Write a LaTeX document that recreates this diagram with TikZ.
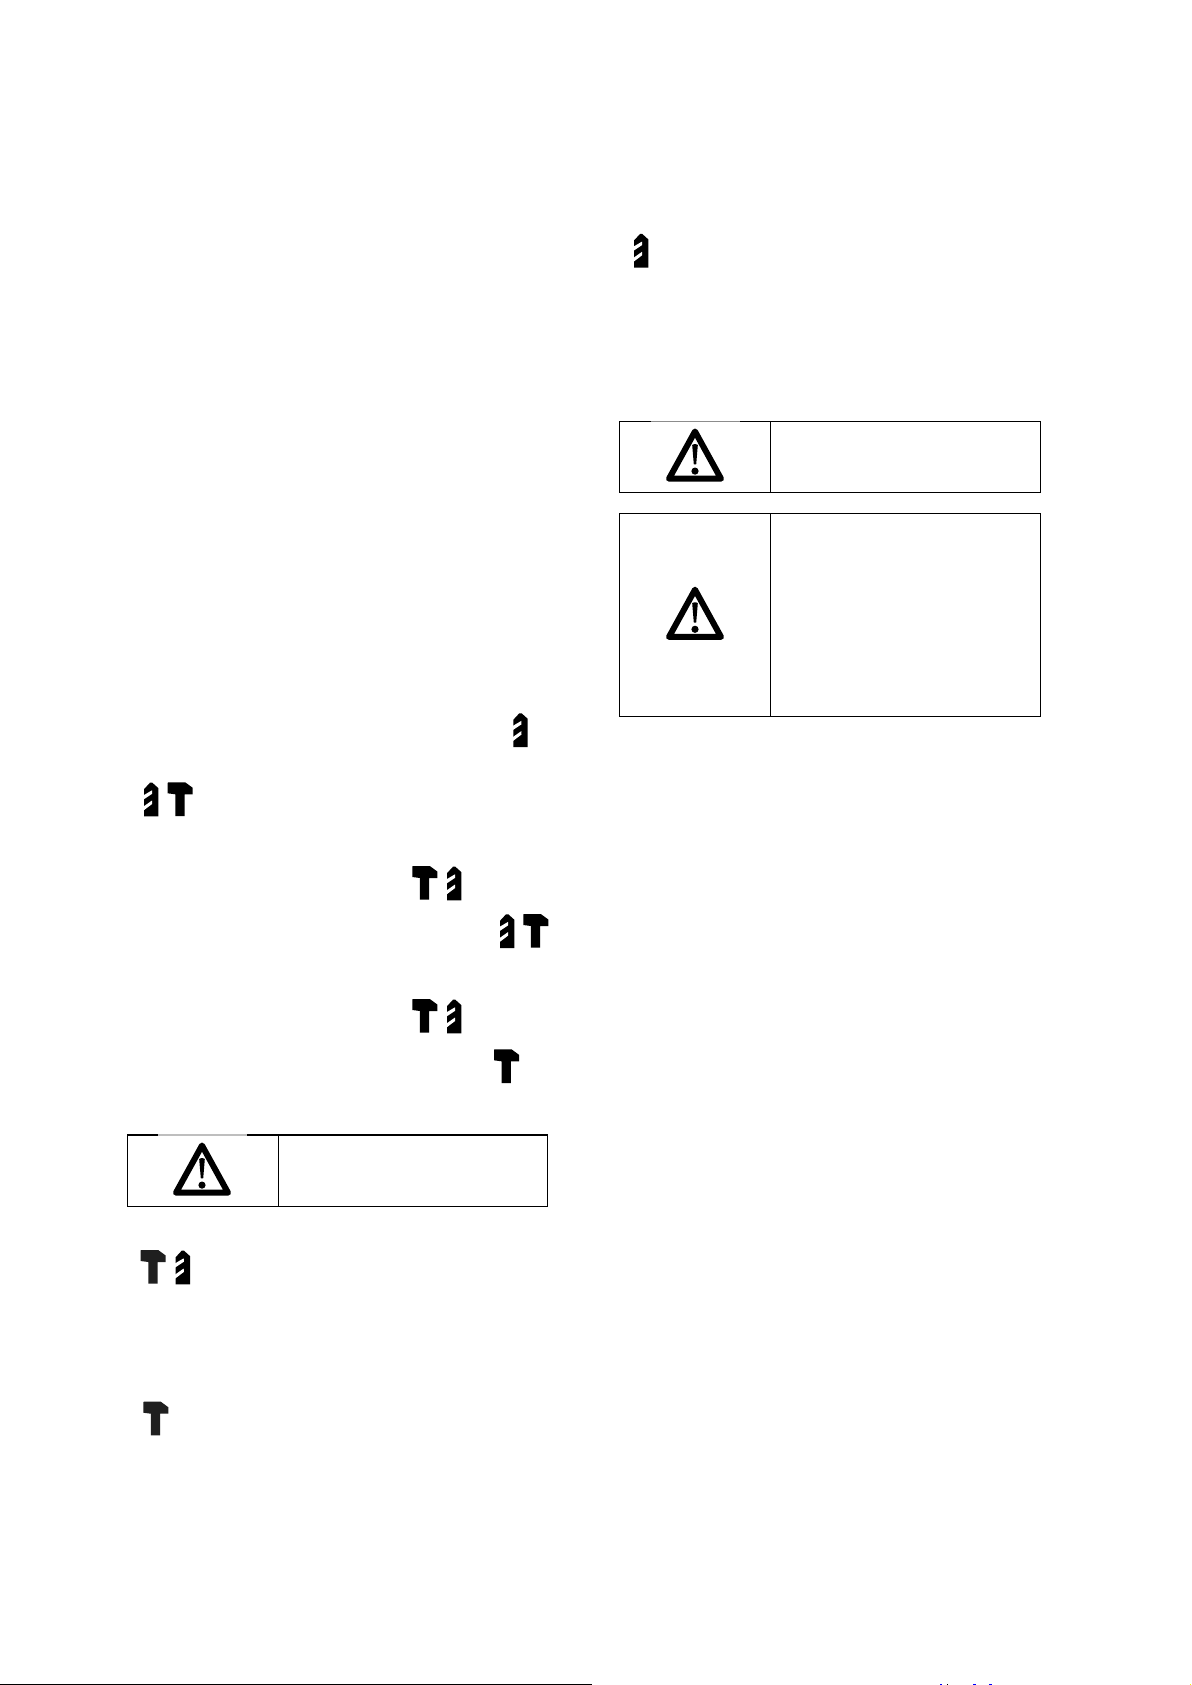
\documentclass[tikz,border=0pt]{standalone}
\tikzset{
  px/.style={x=0.5pt,y=-0.5pt},
  boxline/.style={draw=black,line width=0.65pt},
  graybit/.style={line width=0.6pt},
  hammerglyph/.pic={
    \fill[#1] (0,0.5) -- (0.5,0) -- (17.5,0) -- (25,5.5) -- (25,12) -- (16.8,12) -- (16.8,33.7) -- (7.6,33.7) -- (7.6,12) -- (0,11) -- cycle;
  },
  drillglyph/.pic={
    \fill[black] (0,33.7) -- (0,6.5) -- (6,0) -- (8.3,0) -- (14.4,5.5) -- (14.4,33.7) -- cycle;
    \fill[white] (-0.5,12.6) -- (8,7.6) -- (8.2,11) -- (-0.5,16.8) -- cycle;
    \fill[white] (-0.5,23.8) -- (8,17.8) -- (8.2,21.2) -- (-0.5,27.8) -- cycle;
  },
  warnglyph/.pic={
    \draw[black,line width=3pt,line join=round] (0,3.2) -- (26,50.4) -- (-26,50.4) -- cycle;
    \fill[black] (-2.8,17) .. controls (-2.8,15.4) and (2.8,15.4) .. (2.8,17) -- (1.2,36) -- (-1.2,36) -- cycle;
    \fill[black] (0,42.8) circle[radius=3.6];
  }
}
\begin{document}
\begin{tikzpicture}[px]
\path[use as bounding box,fill=white] (0,0) rectangle (1191,1685);

% warning tables
\draw[boxline] (127.3,1135) rectangle (547.3,1206.3);
\draw[boxline] (278.3,1135) -- (278.3,1206.3);
\draw[graybit,draw={rgb,255:red,190;green,190;blue,190}] (158,1135) -- (246.7,1135);

\draw[boxline] (619.3,421.3) rectangle (1040.3,492.3);
\draw[boxline] (770.3,421.3) -- (770.3,492.3);
\draw[graybit,draw={rgb,255:red,140;green,140;blue,140}] (650.7,421.3) -- (739.7,421.3);

\draw[boxline] (619.3,513.3) rectangle (1040.3,716.3);
\draw[boxline] (770.3,513.3) -- (770.3,716.3);

% warning signs
\pic at (202,1142.3) {warnglyph};
\pic at (695,428.3) {warnglyph};
\pic at (695,586.5) {warnglyph};

% drill and hammer symbols
\pic at (634,234) {drillglyph};
\pic at (513.3,713.3) {drillglyph};
\pic at (144,782.7) {drillglyph};
\pic at (167.7,782.3) {hammerglyph=black};
\pic at (412.3,866) {hammerglyph=black};
\pic at (447,866.7) {drillglyph};
\pic at (500,914.3) {drillglyph};
\pic at (523.3,914) {hammerglyph=black};
\pic at (412.3,999) {hammerglyph=black};
\pic at (447,999.7) {drillglyph};
\pic at (494,1049.3) {hammerglyph=black};
\pic at (140.7,1250) {hammerglyph=black!88};
\pic at (175.7,1250.7) {drillglyph};
\pic at (143.3,1401.7) {hammerglyph=black!88};

% bottom rule and the cut-off specks beside it
\draw[black,line width=0.8pt] (0,1684.3) -- (592,1684.3);
\fill[blue] (939.5,1684) rectangle (941.5,1685);
\fill[black] (946.5,1684) rectangle (948,1685);
\fill[blue] (973,1684) rectangle (975.5,1685);
\fill[blue] (989,1684) rectangle (991.5,1685);
\fill[yellow] (1189.5,1684) rectangle (1191,1685);
\end{tikzpicture}
\end{document}
